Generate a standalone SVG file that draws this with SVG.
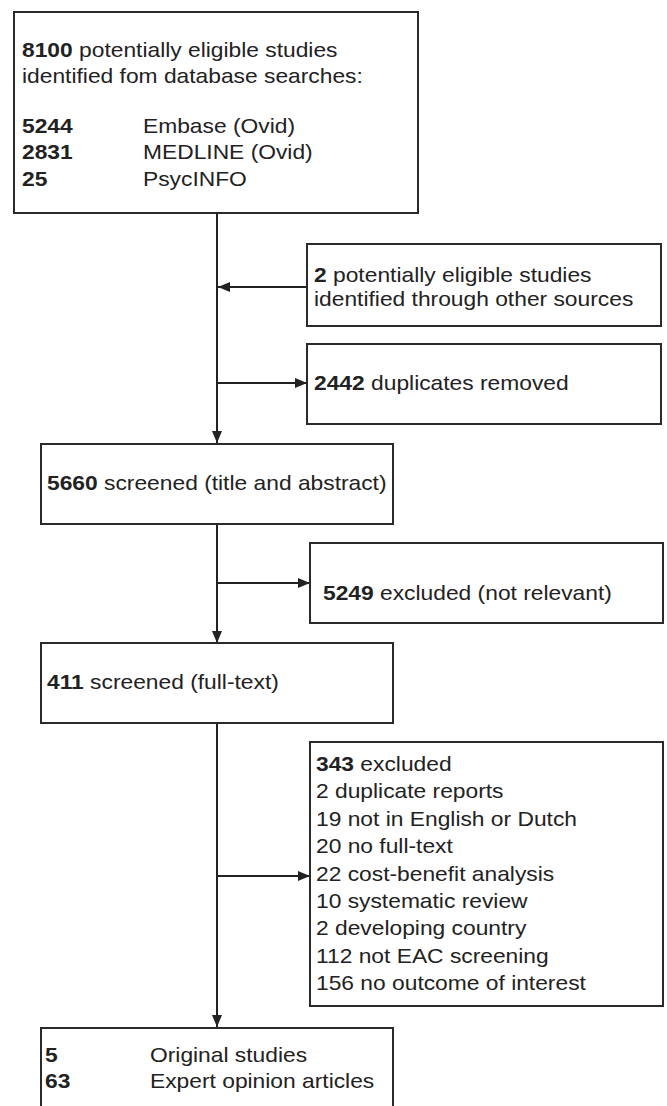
<svg xmlns="http://www.w3.org/2000/svg" width="667" height="1106" viewBox="0 0 667 1106">
<style>
.box{fill:#fff;stroke:#2a2a2a;stroke-width:2}
.t{font-family:"Liberation Sans",Arial,sans-serif;font-size:20px;fill:#222}
.b{font-weight:bold}
.c{fill:none;stroke:#222;stroke-width:2}
</style>
<defs>
<marker id="ah" viewBox="0 0 12 10" refX="12" refY="5" markerWidth="12" markerHeight="10" markerUnits="userSpaceOnUse" orient="auto"><path d="M0,0 L12,5 L0,10 z" fill="#222"/></marker>
</defs>
<rect width="667" height="1106" fill="#fff"/>
<g id="connectors">
<path class="c" d="M217,213 V443" marker-end="url(#ah)"/>
<path class="c" d="M307,287 H218" marker-end="url(#ah)"/>
<path class="c" d="M217,383 H307" marker-end="url(#ah)"/>
<path class="c" d="M217,524 V643" marker-end="url(#ah)"/>
<path class="c" d="M217,583 H310" marker-end="url(#ah)"/>
<path class="c" d="M217,723 V1027" marker-end="url(#ah)"/>
<path class="c" d="M217,876 H310" marker-end="url(#ah)"/>
</g>
<g id="n1">
<rect class="box" x="14" y="12" width="404" height="201"/>
<text class="t" transform="translate(22,57) scale(1.14,1)"><tspan class="b">8100</tspan> potentially eligible studies</text>
<text class="t" transform="translate(22,83) scale(1.14,1)">identified fom database searches:</text>
<text class="t b" transform="translate(22,133) scale(1.14,1)">5244</text>
<text class="t" transform="translate(143,133) scale(1.14,1)">Embase (Ovid)</text>
<text class="t b" transform="translate(22,159) scale(1.14,1)">2831</text>
<text class="t" transform="translate(143,159) scale(1.14,1)">MEDLINE (Ovid)</text>
<text class="t b" transform="translate(22,186) scale(1.14,1)">25</text>
<text class="t" transform="translate(143,186) scale(1.14,1)">PsycINFO</text>
</g>
<g id="n2">
<rect class="box" x="307" y="244" width="354" height="82"/>
<text class="t" transform="translate(314,282) scale(1.14,1)"><tspan class="b">2</tspan> potentially eligible studies</text>
<text class="t" transform="translate(314,306) scale(1.14,1)">identified through other sources</text>
</g>
<g id="n3">
<rect class="box" x="307" y="344" width="354" height="80"/>
<text class="t" transform="translate(314,390) scale(1.14,1)"><tspan class="b">2442</tspan> duplicates removed</text>
</g>
<g id="n4">
<rect class="box" x="41" y="444" width="352" height="80"/>
<text class="t" transform="translate(47,490) scale(1.14,1)"><tspan class="b">5660</tspan> screened (title and abstract)</text>
</g>
<g id="n5">
<rect class="box" x="310" y="543" width="353" height="80"/>
<text class="t" transform="translate(323,600) scale(1.14,1)"><tspan class="b">5249</tspan> excluded (not relevant)</text>
</g>
<g id="n6">
<rect class="box" x="41" y="643" width="352" height="80"/>
<text class="t" transform="translate(47,689) scale(1.14,1)"><tspan class="b">411</tspan> screened (full-text)</text>
</g>
<g id="n7">
<rect class="box" x="310" y="742" width="353" height="264"/>
<text class="t" transform="translate(316,771) scale(1.14,1)"><tspan class="b">343</tspan> excluded</text>
<text class="t" transform="translate(316,798.4) scale(1.14,1)">2 duplicate reports</text>
<text class="t" transform="translate(316,825.8) scale(1.14,1)">19 not in English or Dutch</text>
<text class="t" transform="translate(316,853.2) scale(1.14,1)">20 no full-text</text>
<text class="t" transform="translate(316,880.6) scale(1.14,1)">22 cost-benefit analysis</text>
<text class="t" transform="translate(316,908) scale(1.14,1)">10 systematic review</text>
<text class="t" transform="translate(316,935.4) scale(1.14,1)">2 developing country</text>
<text class="t" transform="translate(316,962.8) scale(1.14,1)">112 not EAC screening</text>
<text class="t" transform="translate(316,990.2) scale(1.14,1)">156 no outcome of interest</text>
</g>
<g id="n8">
<rect class="box" x="41" y="1028" width="352" height="90"/>
<text class="t b" transform="translate(45,1062) scale(1.14,1)">5</text>
<text class="t" transform="translate(150,1062) scale(1.14,1)">Original studies</text>
<text class="t b" transform="translate(45,1088) scale(1.14,1)">63</text>
<text class="t" transform="translate(150,1088) scale(1.14,1)">Expert opinion articles</text>
</g>
</svg>
